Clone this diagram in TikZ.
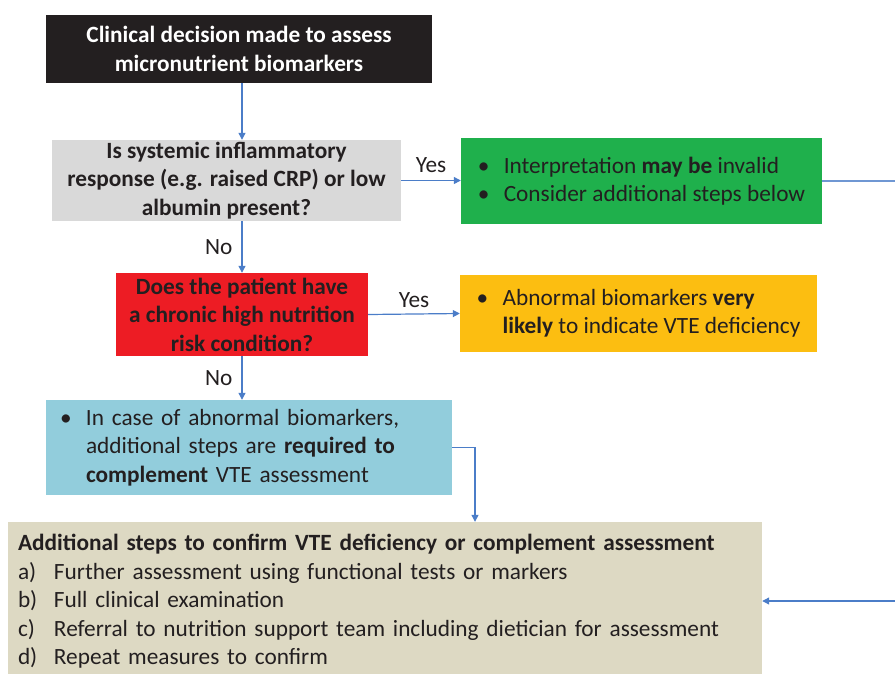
\documentclass[tikz,border=0pt]{standalone}
\usepackage{fontspec}
\setmainfont{Carlito}
\usetikzlibrary{positioning,arrows.meta,calc}
\definecolor{cdInk}{RGB}{35,31,32}
\definecolor{cdBlack}{RGB}{35,31,32}
\definecolor{cdGray}{RGB}{217,217,217}
\definecolor{cdGreen}{RGB}{31,176,76}
\definecolor{cdRed}{RGB}{237,28,36}
\definecolor{cdAmber}{RGB}{252,190,17}
\definecolor{cdSky}{RGB}{146,205,220}
\definecolor{cdSand}{RGB}{221,217,195}
\definecolor{cdLine}{RGB}{75,125,200}
\tikzset{
    base/.style={font=\fontsize{23.3}{28.5}\selectfont, text=cdInk},
    stepbox/.style={base, rectangle, inner sep=0pt, align=center},
    listbox/.style={base, rectangle, inner ysep=0pt, align=left},
    flow/.style={-{Triangle[width=7pt,length=7pt]}, line width=1.2pt, color=cdLine},
    link/.style={line width=1.2pt, color=cdLine!80},
    tag/.style={base, inner sep=1pt}
}
\newcommand{\bul}{\makebox[26pt][l]{\textbullet}}
\newcommand{\itm}[1]{\makebox[36pt][l]{#1}}

\begin{document}
\begin{tikzpicture}[x=1pt, y=-1pt]
    \useasboundingbox (0,0) rectangle (895,673);

    % Decision boxes
    \node[stepbox, fill=cdBlack, text=white, minimum width=386pt, minimum height=68pt]
        (start) at (239,49) {\textbf{Clinical decision made to assess}\\ \textbf{micronutrient biomarkers}};
    \node[stepbox, fill=cdGray, minimum width=349pt, minimum height=81pt]
        (query) at (226.5,180.5) {\textbf{Is systemic inflammatory}\\ \textbf{response (e.g. raised CRP) or low}\\ \textbf{albumin present?}};
    \node[stepbox, fill=cdRed, minimum width=252pt, minimum height=83pt]
        (chronic) at (242,314.5) {\textbf{Does the patient have}\\ \textbf{a chronic high nutrition}\\ \textbf{risk condition?}};

    % Outcome boxes
    \node[listbox, fill=cdGreen, inner xsep=0pt, minimum width=361pt, minimum height=86pt]
        (valid) at (641.5,181) {\bul Interpretation \textbf{may be} invalid\\ \bul Consider additional steps below};
    \node[listbox, fill=cdAmber, inner xsep=0pt, minimum width=357pt, minimum height=77pt]
        (likely) at (638.5,313.5) {\bul Abnormal biomarkers \textbf{very}\\ \hspace*{26pt}\textbf{likely} to indicate VTE deficiency};
    \node[listbox, fill=cdSky, inner xsep=14pt, text width=378pt, minimum height=95pt]
        (advice) at (249,447.5) {\bul In case of abnormal biomarkers,\\ \hspace*{26pt}additional steps are \textbf{required to}\\ \hspace*{26pt}\textbf{complement} VTE assessment};
    \node[listbox, fill=cdSand, inner xsep=10pt, text width=734pt, minimum height=159pt]
        (steps) at (385,601.5) {\textbf{Additional steps to confirm VTE deficiency or complement assessment}\\
        \itm{a)}Further assessment using functional tests or markers\\
        \itm{b)}Full clinical examination\\
        \itm{c)}Referral to nutrition support team including dietician for assessment\\
        \itm{d)}Repeat measures to confirm};

    % Connectors
    \draw[flow] (start.south -| chronic) -- (query.north -| chronic);
    \draw[flow] (query.east) -- node[tag, above=6pt] {Yes} (query.east -| valid.west);
    \draw[flow] (query.south -| chronic) -- node[tag, left=8pt] {No} (chronic.north);
    \draw[flow] (chronic.east) -- node[tag, above=5pt] {Yes} (likely.west);
    \draw[flow] (chronic.south) -- node[tag, left=8pt] {No} (advice.north -| chronic);
    \draw[flow] (advice.east) -| (steps.north -| 475,0);

    % Side links off the page edge
    \coordinate (edgeA) at (895,181);
    \coordinate (edgeB) at (895,601);
    \draw[link] (valid.east) -- (edgeA);
    \draw[flow] (edgeB) -- (steps.east |- edgeB);
\end{tikzpicture}
\end{document}
